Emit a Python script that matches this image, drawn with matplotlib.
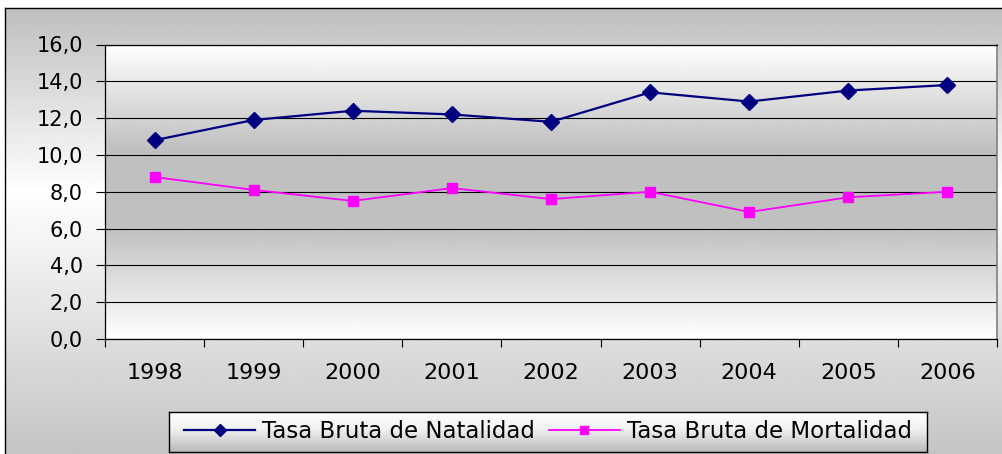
import numpy as np
import matplotlib
matplotlib.use("Agg")
import matplotlib.pyplot as plt

# datos
years = ["1998", "1999", "2000", "2001", "2002", "2003", "2004", "2005", "2006"]
natalidad = [10.8, 11.9, 12.4, 12.2, 11.8, 13.4, 12.9, 13.5, 13.8]
mortalidad = [8.8, 8.1, 7.5, 8.2, 7.6, 8.0, 6.9, 7.7, 8.0]
y_ticks = [0, 2, 4, 6, 8, 10, 12, 14, 16]

W, H = 1003, 454


def fig_box(x0, y0, x1, y1):
    """pixel box (top-left origin) -> figure fraction rect"""
    return [x0 / W, 1 - y1 / H, (x1 - x0) / W, (y1 - y0) / H]


def vgradient(ax, stops, levels, zorder=0, transform=None):
    t = np.linspace(0, 1, 256)
    g = np.interp(t, stops, levels)
    img = np.repeat(g[:, None], 2, axis=1)
    kw = dict(cmap="gray", vmin=0, vmax=1, aspect="auto",
              extent=(0, 1, 0, 1), origin="upper", zorder=zorder,
              interpolation="bilinear")
    if transform is not None:
        kw["transform"] = transform
    ax.imshow(img, **kw)


fig = plt.figure(figsize=(W / 100, H / 100), dpi=100)
fig.patch.set_facecolor("white")

# chart area (gray gradient, black border on left / top)
bg = fig.add_axes(fig_box(5, 8, W + 2, H + 2))
vgradient(bg, [0, 0.41, 1], [0.75, 1.0, 0.77])
bg.set_xticks([])
bg.set_yticks([])
for side in ["right", "bottom"]:
    bg.spines[side].set_visible(False)
for side in ["left", "top"]:
    bg.spines[side].set_color("black")
    bg.spines[side].set_linewidth(1.0)

# plot area
ax = fig.add_axes(fig_box(105, 44.5, 997, 339))
vgradient(ax, [0, 0.36, 0.62, 1], [1.0, 0.75, 0.75, 1.0],
          zorder=0, transform=ax.transAxes)

x = np.arange(len(years))
ax.plot(x, natalidad, color="#000080", marker="D", markersize=8.0,
        linewidth=1.6, zorder=3, label="Tasa Bruta de Natalidad")
ax.plot(x, mortalidad, color="#FF00FF", marker="s", markersize=7.2,
        linewidth=1.3, zorder=3, label="Tasa Bruta de Mortalidad")

ax.set_xlim(-0.5, len(years) - 0.5)
ax.set_ylim(0, 16)

ax.set_yticks(y_ticks)
ax.set_yticklabels([f"{v:.1f}".replace(".", ",") for v in y_ticks])
ax.tick_params(axis="y", direction="out", length=6.5, width=0.8,
               pad=9.5, labelsize=15, colors="black")

ax.set_xticks(np.arange(-0.5, len(years), 1))
ax.set_xticklabels([])
ax.set_xticks(x, minor=True)
ax.set_xticklabels(years, minor=True)
ax.tick_params(axis="x", which="major", direction="out", length=6,
               width=0.8, color="black")
ax.tick_params(axis="x", which="minor", length=0, pad=17, labelsize=16)

ax.yaxis.grid(True, color="black", linewidth=0.8)
ax.set_axisbelow(True)
for side in ["left", "bottom", "top"]:
    ax.spines[side].set_color("black")
    ax.spines[side].set_linewidth(0.9)
ax.spines["right"].set_color("#808080")
ax.spines["right"].set_linewidth(1.2)

# legend box with gradient
lg = fig.add_axes(fig_box(169, 412, 927, 452))
vgradient(lg, [0, 0.4, 1], [1.0, 0.95, 0.73])
lg.set_xticks([])
lg.set_yticks([])
for sp in lg.spines.values():
    sp.set_color("black")
    sp.set_linewidth(1.0)

handles, labels = ax.get_legend_handles_labels()
fig.legend(handles, labels, loc="center",
           bbox_to_anchor=((169 + 927) / 2 / W, 1 - 432 / H),
           ncol=2, frameon=False, fontsize=16.5, handlelength=3.1,
           handletextpad=0.3, columnspacing=0.6, borderpad=0.1,
           markerscale=0.8)

fig.savefig("out.png", dpi=100)
